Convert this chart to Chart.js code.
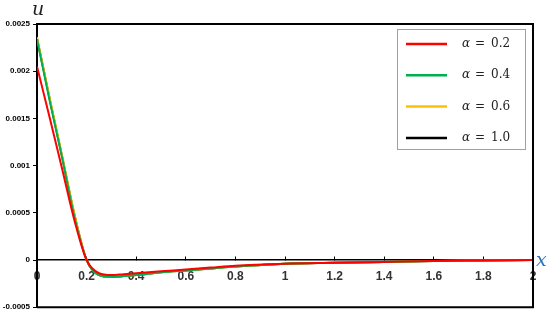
<!DOCTYPE html>
<html>
<head>
<meta charset="utf-8">
<script src="https://cdn.jsdelivr.net/npm/chart.js@4"></script>
<style>
  html, body { margin: 0; padding: 0; background: #fff; }
  #wrap { width: 550px; height: 315px; position: relative; }
</style>
</head>
<body>
<div id="wrap"><canvas id="uChart"></canvas></div>
<script>
// x positions sampled along the curves
const xValues = [0, 0.05, 0.1, 0.15, 0.2, 0.25, 0.3, 0.35, 0.4, 0.5, 0.6, 0.7, 0.8, 1.0, 1.2, 1.4, 1.6, 1.8, 2.0];

// u(x), one array per alpha
const uAlpha02 = [0.00205, 0.00152, 0.00098, 0.00043, 0.0, -0.00014, -0.00016, -0.00015, -0.00014, -0.00012, -0.0001, -0.00008, -0.00006, -0.00004, -0.00003, -0.00002, -0.00001, -0.000005, 0];
const uAlpha04 = [0.00234, 0.00170, 0.00110, 0.00047, 0.0, -0.00016, -0.00018, -0.00017, -0.00016, -0.00013, -0.00011, -0.00009, -0.00007, -0.00004, -0.00003, -0.00002, -0.00001, -0.000005, 0];
const uAlpha06 = [0.00236, 0.00173, 0.00112, 0.00050, 0.0, -0.00016, -0.00018, -0.00017, -0.00016, -0.00013, -0.00011, -0.00009, -0.00007, -0.00004, -0.00003, -0.00002, -0.00001, -0.000005, 0];
const uAlpha10 = [0.00235, 0.00172, 0.00111, 0.00049, 0.0, -0.00016, -0.00018, -0.00017, -0.00016, -0.00013, -0.00011, -0.00009, -0.00007, -0.00004, -0.00003, -0.00002, -0.00001, -0.000005, 0];

const alphaLabels = ["0.2", "0.4", "0.6", "1.0"];
const lineColors = ["#ff0000", "#00b050", "#ffc000", "#000000"];

const xTicks = [0, 0.2, 0.4, 0.6, 0.8, 1, 1.2, 1.4, 1.6, 1.8, 2];
const yTicks = [-0.0005, 0, 0.0005, 0.001, 0.0015, 0.002, 0.0025];

function toPoints(ys) {
  return xValues.map(function (x, i) { return { x: x, y: ys[i] }; });
}

const series = [uAlpha02, uAlpha04, uAlpha06, uAlpha10];

// frame, axis symbols and the boxed legend
const decorPlugin = {
  id: "decor",
  afterDraw: function (chart) {
    const ctx = chart.ctx;
    const a = chart.chartArea;
    ctx.save();

    ctx.strokeStyle = "#000";
    ctx.lineWidth = 2;
    ctx.beginPath();
    ctx.moveTo(a.left, a.top);
    ctx.lineTo(a.right, a.top);
    ctx.lineTo(a.right, a.bottom);
    ctx.lineTo(a.left, a.bottom);
    ctx.stroke();

    ctx.textAlign = "left";
    ctx.textBaseline = "alphabetic";
    ctx.font = 'italic 19px "DejaVu Serif"';
    ctx.fillStyle = "#222";
    ctx.fillText("u", a.left - 5, 15);
    const y0 = chart.scales.y.getPixelForValue(0);
    ctx.fillStyle = "#2e75b6";
    ctx.fillText("x", a.right + 3, y0 + 6);

    // legend box
    const bx = a.right - 136, by = a.top + 5, bw = 128, bh = 120;
    ctx.strokeStyle = "#a0a0a0";
    ctx.lineWidth = 1;
    ctx.strokeRect(bx + 0.5, by + 0.5, bw, bh);

    chart.data.datasets.forEach(function (ds, i) {
      const ry = by + 15 + i * 31.3;
      ctx.strokeStyle = ds.borderColor;
      ctx.lineWidth = 2.5;
      ctx.beginPath();
      ctx.moveTo(bx + 9, ry);
      ctx.lineTo(bx + 50, ry);
      ctx.stroke();

      ctx.fillStyle = "#222";
      ctx.textBaseline = "middle";
      ctx.font = 'italic 12px "DejaVu Serif"';
      ctx.fillText("\u03b1", bx + 65, ry);
      ctx.font = '12px "DejaVu Serif"';
      ctx.fillText("=", bx + 78, ry);
      ctx.fillText(alphaLabels[i], bx + 94, ry);
    });

    ctx.restore();
  }
};

new Chart(document.getElementById("uChart"), {
  type: "line",
  data: {
    datasets: series.map(function (ys, i) {
      return {
        label: "\u03b1 = " + alphaLabels[i],
        data: toPoints(ys),
        borderColor: lineColors[i],
        backgroundColor: lineColors[i],
        borderWidth: 2,
        pointRadius: 0,
        cubicInterpolationMode: "monotone",
        fill: false
      };
    })
  },
  options: {
    responsive: true,
    maintainAspectRatio: false,
    animation: false,
    layout: { padding: { top: 24, right: 17, bottom: 7, left: 0 } },
    plugins: {
      legend: { display: false },
      tooltip: { enabled: false }
    },
    scales: {
      x: {
        type: "linear",
        position: { y: 0 },
        min: 0,
        max: 2,
        afterBuildTicks: function (scale) {
          scale.ticks = xTicks.map(function (v) { return { value: v }; });
        },
        ticks: {
          autoSkip: false,
          maxRotation: 0,
          padding: 13,
          color: "#333",
          font: { family: "Liberation Sans", weight: "bold", size: 12 },
          callback: function (v) { return String(v); }
        },
        grid: { drawOnChartArea: false, drawTicks: true, tickLength: -4, color: "#000" },
        border: { color: "#000", width: 1.5 }
      },
      y: {
        type: "linear",
        min: -0.0005,
        max: 0.0025,
        afterBuildTicks: function (scale) {
          scale.ticks = yTicks.map(function (v) { return { value: v }; });
        },
        afterFit: function (scale) { scale.width = 37; },
        ticks: {
          padding: 3,
          color: "#000",
          font: { family: "Liberation Sans", weight: "bold", size: 8 },
          callback: function (v) { return String(v); }
        },
        grid: { drawOnChartArea: false, drawTicks: true, tickLength: 4, color: "#000" },
        border: { color: "#000", width: 2 }
      }
    }
  },
  plugins: [decorPlugin]
});
</script>
</body>
</html>
